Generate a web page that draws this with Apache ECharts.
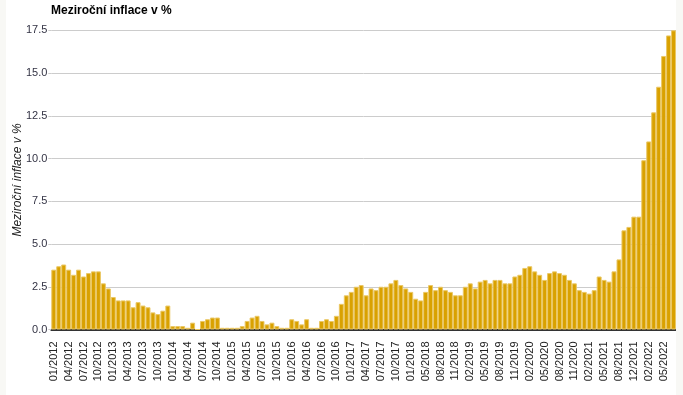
<!DOCTYPE html>
<html>
<head>
<meta charset="utf-8">
<script src="https://cdn.jsdelivr.net/npm/echarts@6/dist/echarts.min.js"></script>
<style>
  html, body { margin: 0; padding: 0; background: #f8f8f5; }
  #chart { position: absolute; left: 6px; top: 0; width: 670px; height: 395px; background: #ffffff; }
</style>
</head>
<body>
<div id="chart"></div>
<script>
const chartTitle = "Meziroční inflace v %";
const yAxisTitle = "Meziroční inflace v %";
const yTicks = [0, 2.5, 5, 7.5, 10, 12.5, 15, 17.5];

const categories = [
  "01/2012","02/2012","03/2012","04/2012","05/2012","06/2012","07/2012","08/2012","09/2012","10/2012","11/2012","12/2012",
  "01/2013","02/2013","03/2013","04/2013","05/2013","06/2013","07/2013","08/2013","09/2013","10/2013","11/2013","12/2013",
  "01/2014","02/2014","03/2014","04/2014","05/2014","06/2014","07/2014","08/2014","09/2014","10/2014","11/2014","12/2014",
  "01/2015","02/2015","03/2015","04/2015","05/2015","06/2015","07/2015","08/2015","09/2015","10/2015","11/2015","12/2015",
  "01/2016","02/2016","03/2016","04/2016","05/2016","06/2016","07/2016","08/2016","09/2016","10/2016","11/2016","12/2016",
  "01/2017","02/2017","03/2017","04/2017","05/2017","06/2017","07/2017","08/2017","09/2017","10/2017","11/2017","12/2017",
  "01/2018","02/2018","03/2018","05/2018","06/2018","07/2018","08/2018","09/2018","10/2018","11/2018","12/2018",
  "01/2019","02/2019","03/2019","04/2019","05/2019","06/2019","07/2019","08/2019","09/2019","10/2019","11/2019","12/2019",
  "01/2020","02/2020","03/2020","04/2020","05/2020","06/2020","07/2020","08/2020","09/2020","10/2020","11/2020","12/2020",
  "01/2021","02/2021","03/2021","04/2021","05/2021","06/2021","07/2021","08/2021","10/2021","11/2021","12/2021","12/2021",
  "01/2022","02/2022","03/2022","04/2022","05/2022","06/2022","07/2022"
];

const inflation2012 = [3.5, 3.7, 3.8, 3.5, 3.2, 3.5, 3.1, 3.3, 3.4, 3.4, 2.7, 2.4];
const inflation2013 = [1.9, 1.7, 1.7, 1.7, 1.3, 1.6, 1.4, 1.3, 1.0, 0.9, 1.1, 1.4];
const inflation2014 = [0.2, 0.2, 0.2, 0.1, 0.4, 0.0, 0.5, 0.6, 0.7, 0.7, 0.1, 0.1];
const inflation2015 = [0.1, 0.1, 0.2, 0.5, 0.7, 0.8, 0.5, 0.3, 0.4, 0.2, 0.1, 0.1];
const inflation2016 = [0.6, 0.5, 0.3, 0.6, 0.1, 0.1, 0.5, 0.6, 0.5, 0.8, 1.5, 2.0];
const inflation2017 = [2.2, 2.5, 2.6, 2.0, 2.4, 2.3, 2.5, 2.5, 2.7, 2.9, 2.6, 2.4];
const inflation2018 = [2.2, 1.8, 1.7, 2.2, 2.6, 2.3, 2.5, 2.3, 2.2, 2.0, 2.0];
const inflation2019 = [2.5, 2.7, 2.4, 2.8, 2.9, 2.7, 2.9, 2.9, 2.7, 2.7, 3.1, 3.2];
const inflation2020 = [3.6, 3.7, 3.4, 3.2, 2.9, 3.3, 3.4, 3.3, 3.2, 2.9, 2.7, 2.3];
const inflation2021 = [2.2, 2.1, 2.3, 3.1, 2.9, 2.8, 3.4, 4.1, 5.8, 6.0, 6.6, 6.6];
const inflation2022 = [9.9, 11.0, 12.7, 14.2, 16.0, 17.2, 17.5];

const values = [].concat(inflation2012, inflation2013, inflation2014, inflation2015,
  inflation2016, inflation2017, inflation2018, inflation2019, inflation2020,
  inflation2021, inflation2022);

const FONT = 'Arial, "Liberation Sans", sans-serif';
const chart = echarts.init(document.getElementById('chart'), null, { renderer: 'canvas' });
chart.setOption({
  animation: false,
  backgroundColor: '#ffffff',
  title: {
    text: chartTitle,
    left: 45,
    top: 5,
    padding: 0,
    textStyle: { fontFamily: FONT, fontSize: 12, fontWeight: 'bold', color: '#000000' }
  },
  grid: { left: 45.3, right: 0, top: 30.3, bottom: 65.5, containLabel: false, outerBoundsMode: 'none' },
  xAxis: {
    type: 'category',
    data: categories,
    boundaryGap: true,
    axisLine: { show: true, lineStyle: { color: '#333333', width: 2 } },
    axisTick: { show: false },
    axisLabel: {
      interval: 2,
      rotate: 90,
      margin: 12,
      fontFamily: FONT,
      fontSize: 11,
      color: '#222222'
    },
    splitLine: { show: false }
  },
  yAxis: {
    type: 'value',
    min: yTicks[0],
    max: yTicks[yTicks.length - 1],
    interval: 2.5,
    name: yAxisTitle,
    nameLocation: 'middle',
    nameGap: 28,
    nameMoveOverlap: false,
    nameTextStyle: { fontFamily: FONT, fontSize: 12, fontStyle: 'italic', color: '#222222' },
    axisLine: { show: false },
    axisTick: { show: true, length: 3, lineStyle: { color: '#cccccc' } },
    axisLabel: {
      margin: 4,
      fontFamily: FONT,
      fontSize: 11,
      color: '#333344',
      formatter: function (v) { return v.toFixed(1); }
    },
    splitLine: { show: true, lineStyle: { color: '#cccccc', width: 1 } }
  },
  series: [{
    type: 'bar',
    data: values,
    barCategoryGap: '0%',
    itemStyle: { color: '#d9a100', borderColor: '#eac764', borderWidth: 1 }
  }]
});
</script>
</body>
</html>
